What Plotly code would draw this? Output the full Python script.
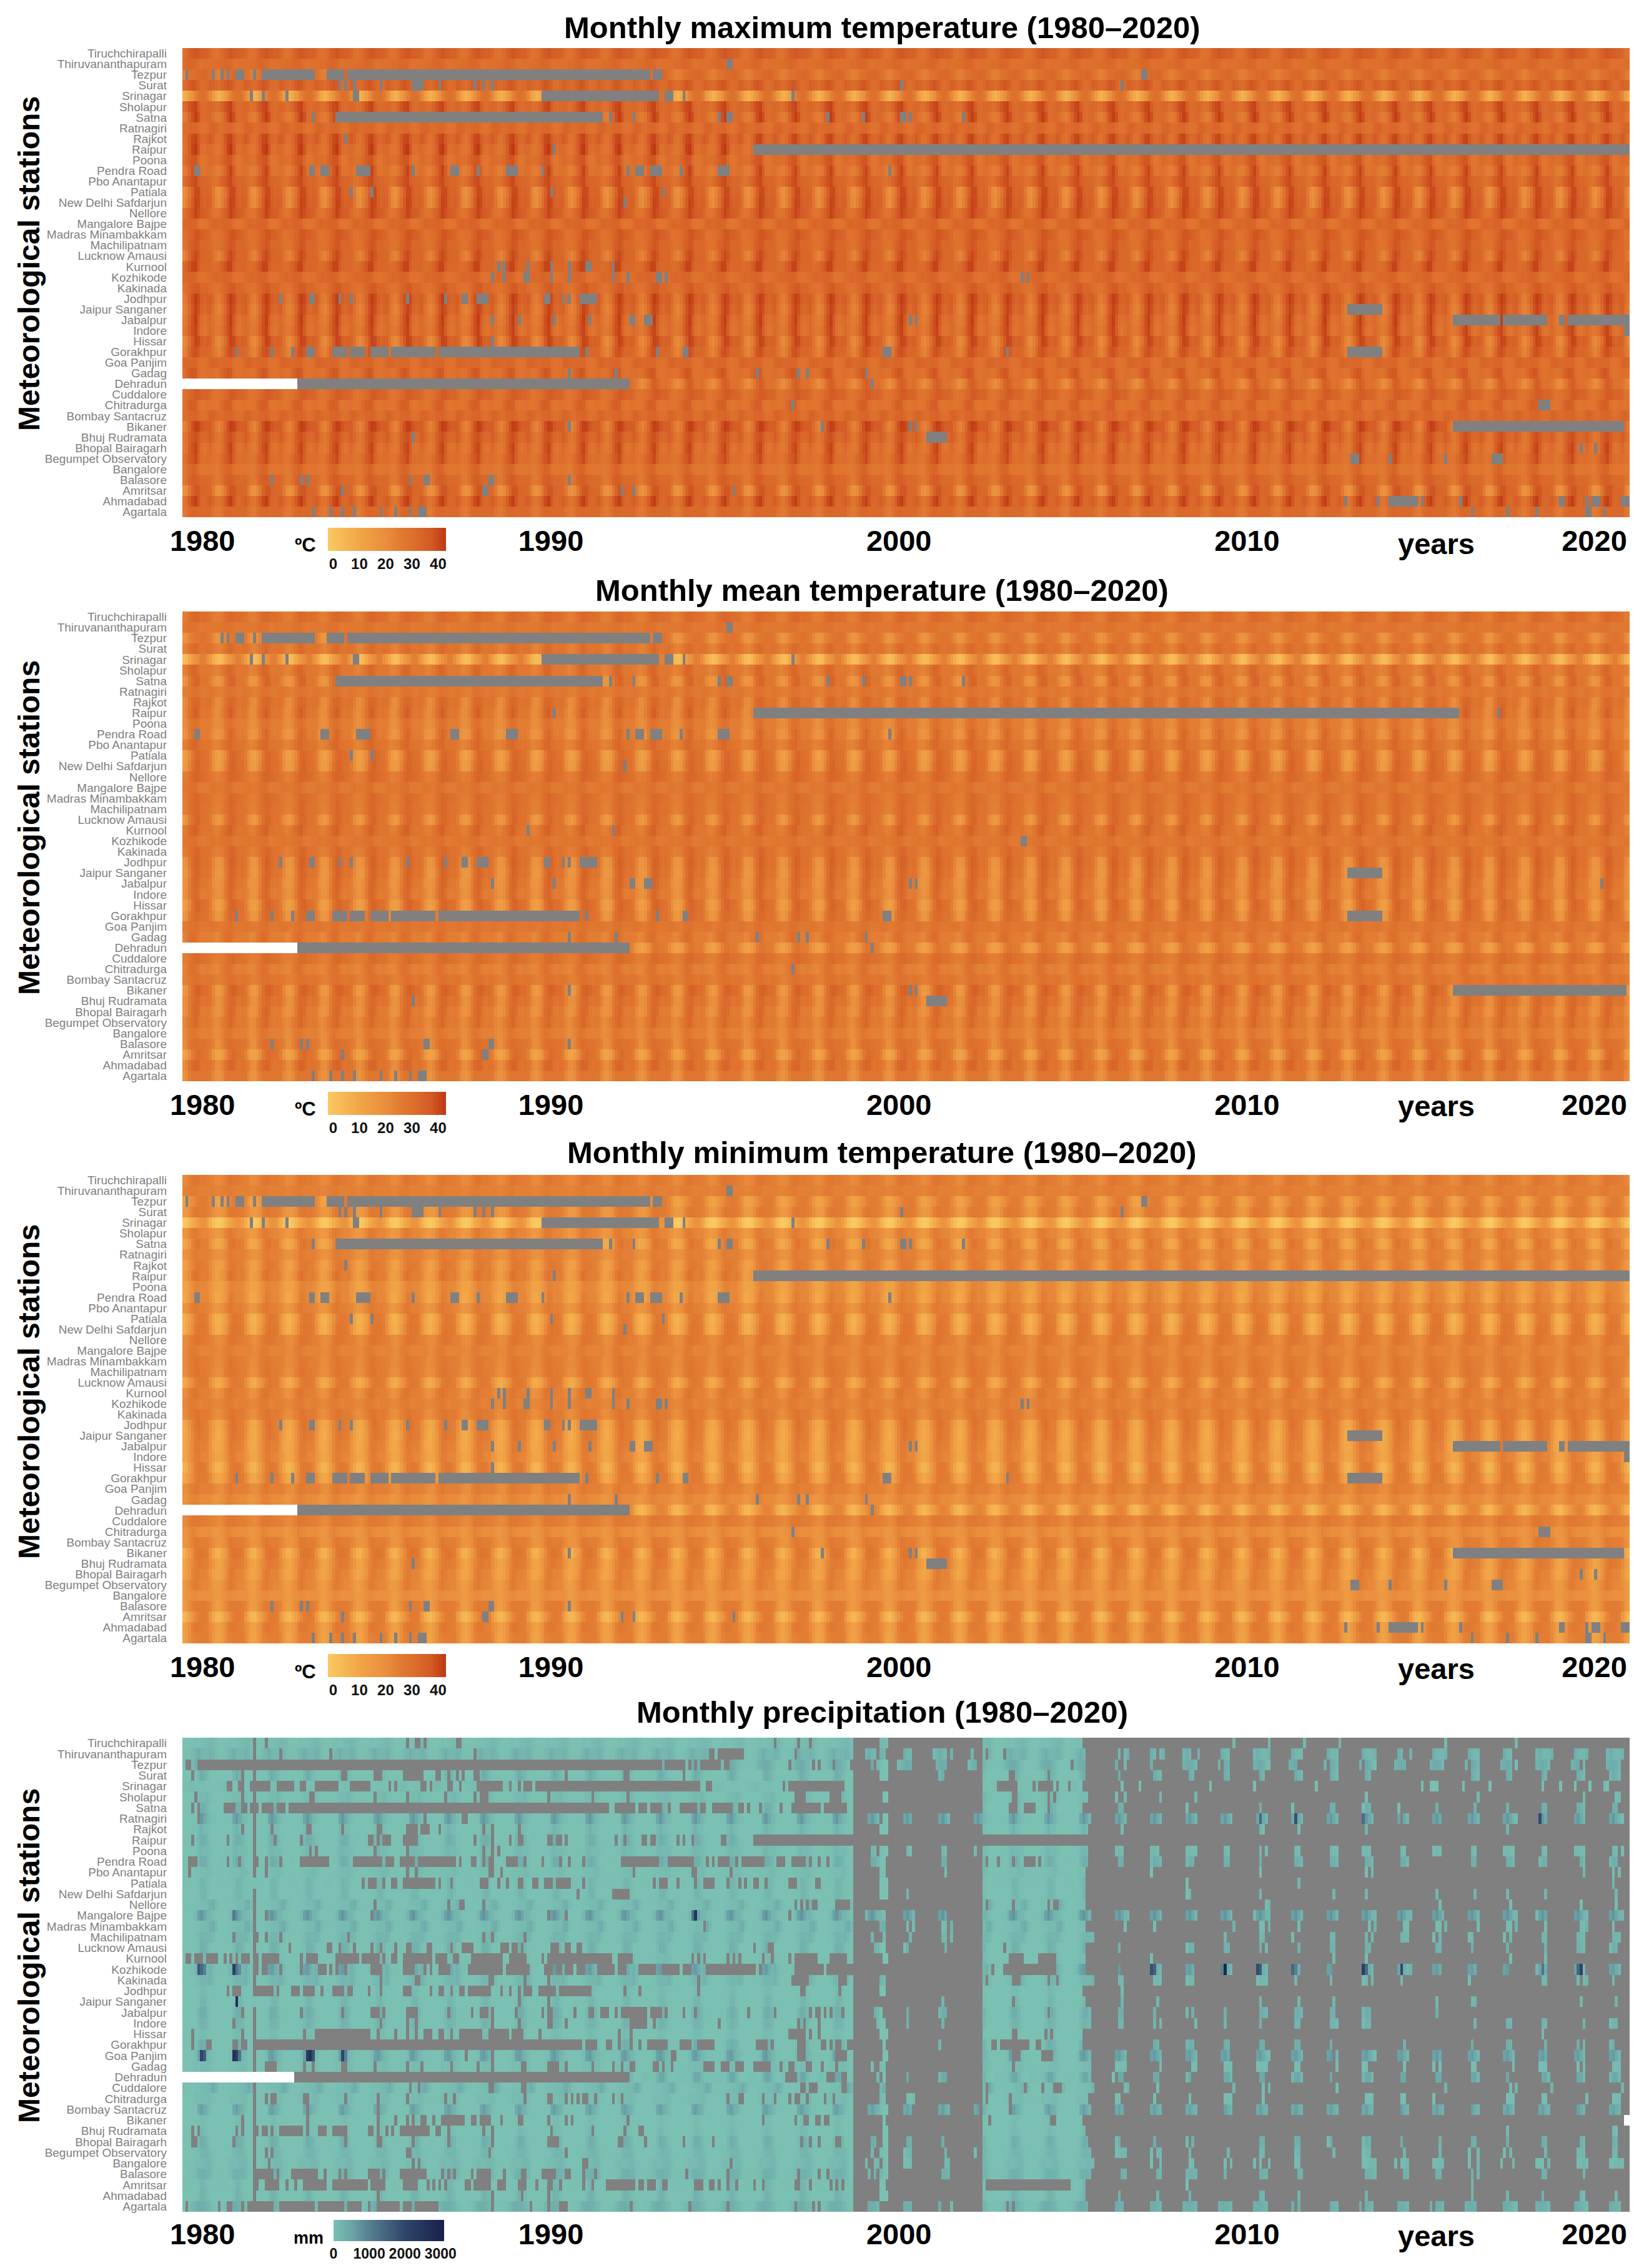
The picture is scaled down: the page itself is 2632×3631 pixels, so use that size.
import numpy as np
import plotly.graph_objects as go

# Station order is top-down as printed on the y axis.
STATIONS = ["Tiruchchirapalli","Thiruvananthapuram","Tezpur","Surat","Srinagar","Sholapur","Satna","Ratnagiri","Rajkot","Raipur","Poona","Pendra Road","Pbo Anantapur","Patiala","New Delhi Safdarjun","Nellore","Mangalore Bajpe","Madras Minambakkam","Machilipatnam","Lucknow Amausi","Kurnool","Kozhikode","Kakinada","Jodhpur","Jaipur Sanganer","Jabalpur","Indore","Hissar","Gorakhpur","Goa Panjim","Gadag","Dehradun","Cuddalore","Chitradurga","Bombay Santacruz","Bikaner","Bhuj Rudramata","Bhopal Bairagarh","Begumpet Observatory","Bangalore","Balasore","Amritsar","Ahmadabad","Agartala"]
YEAR_TICKS = [1980.57, 1990.44, 2000.3, 2010.16, 2020.0]
YEAR_LABELS = ["1980", "1990", "2000", "2010", "2020"]
TITLES = ["Monthly maximum temperature (1980–2020)", "Monthly mean temperature (1980–2020)", "Monthly minimum temperature (1980–2020)", "Monthly precipitation (1980–2020)"]

# Estimated 12-month (Jan-Dec) station profiles read from the stripes: the picture's
# 492 x 44 cells are approximated by one annual profile per station and panel.
TMAX = [[30,32,35,37,38,37,36,35,35,33,30,29],[31,32,33,33,32,30,29,30,30,30,30,31],[24,26,29,30,31,32,32,33,32,30,28,25],[31,33,36,38,37,34,31,31,32,35,34,32],[6,9,14,19,24,28,30,30,27,22,15,9],[31,34,38,40,41,36,32,31,32,33,32,30],[25,28,34,39,42,39,32,31,32,32,29,26],[31,31,32,33,33,31,29,29,30,33,34,33],[29,32,37,40,41,37,33,32,34,37,34,30],[28,31,36,41,43,38,31,30,32,32,30,28],[30,33,36,38,38,32,28,28,30,32,31,30],[25,28,33,38,41,36,29,28,30,30,28,25],[31,34,37,39,40,36,34,33,33,32,30,29],[19,23,28,35,40,40,35,33,34,33,27,21],[20,24,30,37,41,40,36,34,35,34,28,22],[29,32,35,38,41,39,37,36,35,32,29,28],[32,33,34,34,33,29,28,28,29,31,33,33],[30,31,33,35,38,38,36,35,34,32,29,29],[29,31,34,36,38,37,33,33,33,32,30,29],[23,27,33,38,40,38,34,33,33,33,29,25],[32,35,38,41,41,36,33,33,33,33,31,31],[32,33,34,34,33,30,29,29,30,31,32,33],[29,31,33,35,37,37,33,33,33,31,30,29],[25,29,34,39,42,40,36,34,35,36,32,27],[23,26,32,38,41,39,34,32,34,35,30,25],[25,28,34,39,42,37,31,29,31,32,29,26],[27,30,35,39,41,36,30,28,30,32,30,27],[21,24,30,37,41,40,36,34,35,34,29,23],[23,27,33,38,39,37,33,33,33,32,29,25],[32,32,33,33,33,30,29,29,30,33,34,33],[30,33,36,38,37,31,29,29,30,31,30,29],[20,23,27,33,36,34,30,29,30,28,25,22],[29,30,32,34,37,37,35,34,34,32,29,28],[29,32,35,36,35,30,28,28,29,29,28,28],[31,31,33,33,34,32,30,30,31,34,34,32],[23,27,33,39,42,41,38,36,36,36,31,26],[27,30,35,38,39,37,33,32,33,36,33,29],[26,29,35,39,41,36,30,28,30,32,29,27],[29,32,36,38,40,35,31,30,31,31,29,28],[27,30,32,34,33,29,28,28,28,28,27,26],[27,30,34,36,36,34,32,32,32,32,30,27],[18,21,27,34,38,38,34,33,33,32,26,20],[28,31,36,40,42,38,33,32,34,36,33,29],[26,29,32,33,33,32,32,32,32,32,29,27]]
TMEAN = [[25,27,30,32,33,32,31,31,30,29,26,25],[27,28,29,29,29,27,26,27,27,27,27,27],[17,19,23,25,27,28,29,29,28,26,22,18],[23,25,28,31,32,30,28,28,29,29,27,24],[2,4,9,14,18,21,24,24,20,14,8,4],[24,26,30,33,33,30,27,27,27,27,25,23],[17,20,26,31,34,33,28,28,28,25,21,17],[25,25,27,29,29,28,27,26,27,28,27,26],[20,23,28,32,33,32,29,28,29,29,25,21],[21,24,29,33,36,32,28,27,28,27,23,20],[20,22,26,29,30,28,25,25,25,25,22,20],[17,20,25,30,33,30,26,25,26,24,20,17],[24,26,30,32,33,30,29,28,28,27,24,23],[12,16,21,27,32,33,31,30,29,25,19,14],[14,17,23,29,33,34,31,30,30,26,20,15],[25,26,29,32,34,33,32,31,30,28,26,24],[27,27,29,30,30,27,26,26,26,27,28,27],[25,26,29,31,33,32,31,30,29,28,26,25],[24,26,29,31,33,32,30,29,29,28,26,24],[15,19,25,30,33,33,30,29,29,26,21,17],[25,28,31,34,35,31,29,28,28,28,26,24],[27,28,29,30,30,27,26,26,27,27,28,27],[25,26,29,31,33,33,30,29,29,28,26,24],[17,20,26,31,35,34,31,29,30,28,23,18],[16,18,24,30,34,33,30,28,29,27,22,17],[17,20,25,31,34,32,28,27,27,25,20,17],[18,21,26,31,33,30,26,25,26,25,22,19],[13,16,22,29,33,34,31,30,29,25,19,14],[16,19,25,30,32,32,30,29,29,26,22,17],[26,26,28,29,30,28,27,27,27,28,28,27],[23,26,29,31,30,27,25,25,25,25,24,22],[12,15,19,24,28,28,26,26,25,21,16,13],[25,26,28,31,32,32,30,30,29,28,26,25],[23,25,28,30,29,26,24,24,25,24,23,22],[24,25,27,29,30,29,28,27,28,28,27,25],[15,18,24,30,34,35,33,31,31,28,22,16],[19,21,26,30,32,32,29,28,29,28,24,20],[18,21,26,31,33,31,26,25,26,25,21,18],[22,25,28,31,33,29,27,26,27,26,23,21],[21,23,26,28,27,25,24,24,24,24,22,20],[20,23,27,30,31,30,29,29,28,27,24,20],[11,14,20,26,30,32,30,29,28,24,17,12],[20,23,28,32,34,33,29,28,29,28,25,21],[18,21,25,28,28,28,28,28,28,27,22,19]]
TMIN = [[21,22,24,27,28,27,26,26,25,24,23,21],[23,24,25,26,26,24,24,24,24,24,24,23],[11,13,17,20,23,25,26,26,25,22,17,12],[15,16,20,24,27,27,26,26,25,23,20,16],[-2,0,4,8,11,15,18,18,13,7,2,-1],[16,18,22,25,26,24,23,22,22,20,18,15],[9,12,17,23,27,28,25,25,24,19,13,9],[18,19,21,24,26,25,24,24,24,23,21,19],[12,14,19,23,26,27,26,25,24,21,17,13],[14,17,21,26,29,27,25,24,25,22,17,13],[11,12,16,20,23,23,22,22,21,18,14,11],[9,12,16,21,25,24,22,22,22,18,13,9],[17,19,22,25,27,25,24,24,23,22,19,16],[6,9,13,19,24,27,27,26,24,18,11,7],[7,10,15,21,26,28,27,27,25,19,12,8],[20,21,23,26,28,28,27,26,25,24,23,21],[21,22,24,26,26,24,23,23,23,23,23,22],[21,22,24,26,28,27,26,25,25,24,23,21],[20,21,24,26,28,28,26,26,25,24,22,20],[8,11,16,21,25,27,27,26,25,20,14,9],[19,21,24,27,28,26,25,24,24,23,21,18],[22,23,25,26,26,24,23,24,24,24,23,22],[20,22,24,26,28,28,26,26,26,24,22,20],[9,12,18,23,27,29,27,25,24,20,14,10],[8,11,16,22,26,28,26,25,24,19,13,9],[9,12,17,22,26,26,24,24,23,18,12,9],[10,12,17,22,25,25,23,22,22,18,14,10],[5,8,14,20,25,27,27,26,23,17,10,6],[9,12,16,21,25,27,26,26,25,21,15,10],[20,20,23,25,27,25,24,24,24,24,23,21],[17,19,21,23,23,22,21,21,21,20,18,16],[4,7,11,15,19,22,23,23,21,14,8,5],[21,22,24,27,27,27,26,25,25,24,23,22],[17,19,21,23,22,21,20,20,20,20,18,16],[17,18,21,24,27,26,25,25,25,23,21,18],[6,10,15,21,26,28,28,27,25,19,12,7],[10,13,18,22,25,27,26,25,24,21,16,12],[10,13,17,23,26,25,23,23,22,18,13,10],[15,18,21,24,26,24,23,22,22,20,16,14],[15,17,19,21,21,20,19,19,19,19,17,15],[14,17,21,24,26,26,26,26,25,23,18,14],[4,7,12,17,22,25,26,26,24,16,9,5],[12,15,19,24,27,27,26,25,24,21,17,13],[11,14,19,23,24,25,25,25,25,22,16,12]]
PRECIP = [[15,10,10,40,70,40,50,100,130,170,150,70],[20,25,40,120,220,330,210,170,180,280,210,70],[15,30,60,160,270,340,390,320,200,90,20,8],[1,1,1,2,10,200,380,250,150,30,8,2],[60,70,110,90,60,40,60,70,30,30,20,40],[4,3,8,20,35,110,120,130,180,90,25,5],[20,20,12,5,10,110,320,300,170,35,10,8],[1,1,1,3,30,480,650,420,220,100,30,5],[1,1,1,1,5,120,250,130,80,15,5,1],[10,15,20,15,20,200,320,300,190,50,10,5],[2,1,3,15,40,140,190,130,130,90,30,5],[20,25,20,15,15,190,340,320,200,50,10,10],[3,4,6,20,50,60,70,90,150,110,35,6],[40,40,30,15,20,70,220,200,110,15,5,15],[20,20,15,10,20,60,200,220,110,15,5,10],[25,10,6,15,40,50,90,110,130,250,320,130],[1,1,3,25,160,550,700,480,230,200,70,15],[20,8,5,12,40,60,100,130,130,280,350,150],[8,10,10,20,50,130,220,210,180,210,120,15],[20,20,10,8,20,110,300,290,180,30,5,8],[3,5,6,15,30,80,100,120,150,110,25,5],[3,3,10,70,220,520,620,380,200,280,130,30],[10,12,10,20,50,130,190,190,180,260,130,15],[4,4,3,4,12,35,120,120,50,6,2,1],[8,8,6,6,15,60,190,220,70,15,3,3],[22,20,15,7,10,180,340,320,190,30,10,8],[5,3,2,3,10,130,260,230,170,40,15,5],[15,20,15,15,20,50,120,110,60,10,3,8],[15,15,10,15,40,220,340,300,220,55,5,5],[1,1,1,10,100,520,620,400,220,130,40,10],[2,2,10,35,70,60,85,85,120,110,30,5],[50,55,50,25,40,210,430,430,200,30,8,20],[30,15,15,20,50,50,70,120,130,230,370,220],[2,3,10,35,85,70,80,90,130,120,35,8],[1,1,1,1,15,400,560,380,250,80,15,4],[5,8,6,6,15,30,90,90,30,5,1,2],[2,2,2,1,4,50,150,80,50,8,3,1],[15,10,7,4,10,140,340,310,190,30,15,7],[6,8,15,25,40,110,190,210,180,110,25,5],[3,6,10,45,115,90,110,140,200,160,60,15],[15,30,40,50,110,240,300,310,250,190,50,8],[30,40,35,20,20,60,200,170,60,15,5,15],[1,1,1,2,8,100,260,210,100,12,5,1],[10,25,70,180,300,360,330,300,220,150,30,10]]
# Unusually dark cells: (station, month index from Jan 1980, mm)
PRECIP_EVENTS = [("Kozhikode",5,1700),("Kozhikode",6,1400),("Kozhikode",7,1000),("Kozhikode",17,2100),("Kozhikode",18,1200),("Kozhikode",19,800),("Goa Panjim",6,2000),("Goa Panjim",7,1600),("Goa Panjim",17,2600),("Goa Panjim",18,2200),("Goa Panjim",19,1200),("Goa Panjim",42,2300),("Goa Panjim",43,2700),("Goa Panjim",44,1800),("Goa Panjim",54,2000),("Goa Panjim",55,1000),("Jaipur Sanganer",18,2700),("Mangalore Bajpe",17,1100),("Mangalore Bajpe",173,1200),("Mangalore Bajpe",174,2500),("Kozhikode",329,1800),("Kozhikode",330,1500),("Kozhikode",353,1000),("Kozhikode",354,2900),("Kozhikode",365,1900),("Kozhikode",366,1600),("Kozhikode",377,1400),("Kozhikode",378,1000),("Kozhikode",401,2200),("Kozhikode",402,1400),("Kozhikode",414,2000),("Kozhikode",462,1200),("Kozhikode",474,1400),("Kozhikode",475,2100),("Ratnagiri",366,1400),("Ratnagiri",378,1800),("Ratnagiri",401,1300),("Ratnagiri",461,1900)]

# Missing-data runs: station -> (first month index, number of months)
TMAX_GAPS = {"Thiruvananthapuram":[(185,2)],
"Tezpur":[(1,1),(10,1),(13,1),(15,1),(18,3),(24,1),(27,8),(35,10),(49,6),(56,103),(160,3),(326,2)],
"Surat":[(53,1),(55,1),(58,1),(67,1),(78,4),(87,1),(99,1),(102,1),(105,1),(244,1),(319,1)],
"Srinagar":[(23,1),(27,1),(35,1),(58,2),(122,40),(164,3),(170,1),(207,1)],
"Satna":[(44,1),(52,91),(145,1),(153,1),(182,1),(185,2),(219,1),(231,1),(244,2),(247,1),(265,1)],
"Rajkot":[(55,1)],"Raipur":[(126,1),(194,298)],
"Pendra Road":[(4,2),(43,2),(47,3),(59,5),(78,1),(91,3),(100,1),(110,4),(122,1),(151,1),(154,3),(159,4),(169,1),(182,4),(240,1)],
"Patiala":[(57,1),(64,1),(125,1),(163,1)],"New Delhi Safdarjun":[(150,1)],
"Kurnool":[(107,1),(109,1),(117,1),(125,1),(131,1),(137,2),(146,1)],
"Kozhikode":[(105,1),(109,1),(116,2),(125,1),(131,1),(146,1),(151,1),(161,2),(164,1),(285,1),(287,1)],
"Jodhpur":[(33,1),(43,2),(53,1),(57,1),(76,1),(89,1),(95,2),(100,4),(123,2),(129,1),(131,1),(135,6)],
"Jaipur Sanganer":[(396,12)],
"Jabalpur":[(105,1),(114,1),(126,1),(138,1),(152,2),(157,3),(247,1),(249,1),(432,16),(449,15),(468,2),(471,21)],
"Indore":[(490,2)],"Hissar":[(105,1)],
"Gorakhpur":[(18,1),(30,1),(37,1),(42,3),(51,5),(57,5),(64,6),(71,15),(87,48),(137,1),(161,1),(170,2),(238,3),(280,1),(396,12)],
"Gadag":[(131,1),(147,1),(195,1),(209,1),(212,1),(232,1)],
"Dehradun":[(39,113),(234,1)],"Chitradurga":[(207,1),(461,4)],
"Bikaner":[(131,1),(217,1),(247,1),(249,1),(432,58)],"Bhuj Rudramata":[(78,1),(253,7)],
"Bhopal Bairagarh":[(475,1),(480,1)],"Begumpet Observatory":[(397,3),(410,1),(429,1),(445,4)],
"Balasore":[(30,1),(40,1),(42,1),(77,1),(82,2),(104,2),(131,1)],
"Amritsar":[(54,1),(102,2),(149,1),(153,1),(187,1)],
"Ahmadabad":[(395,1),(406,1),(410,10),(421,1),(434,1),(468,2),(477,1),(479,3),(489,3)],
"Agartala":[(44,1),(50,1),(54,1),(58,1),(67,1),(72,1),(77,1),(80,3),(438,1),(450,1),(460,1),(477,2),(483,1)]}
TMEAN_GAPS = {"Thiruvananthapuram":[(185,2)],
"Tezpur":[(13,1),(15,1),(18,3),(24,1),(27,8),(35,10),(49,6),(56,103),(160,3)],
"Srinagar":[(23,1),(27,1),(35,1),(58,2),(122,40),(164,3),(170,1),(207,1)],
"Satna":[(52,91),(145,1),(153,1),(182,1),(185,2),(219,1),(231,1),(244,2),(247,1),(265,1)],
"Raipur":[(126,1),(194,240),(447,1)],
"Pendra Road":[(4,2),(47,3),(59,5),(91,3),(110,4),(151,1),(154,3),(159,4),(169,1),(182,4),(240,1)],
"Patiala":[(57,1),(64,1)],"New Delhi Safdarjun":[(150,1)],"Kurnool":[(117,1),(146,1)],"Kozhikode":[(285,2)],
"Jodhpur":[(33,1),(43,2),(53,1),(57,1),(76,1),(89,1),(95,2),(100,4),(123,2),(129,1),(131,1),(135,6)],
"Jaipur Sanganer":[(396,12)],"Jabalpur":[(105,1),(126,1),(152,2),(157,3),(247,1),(249,1),(482,1)],
"Gorakhpur":[(18,1),(30,1),(37,1),(42,3),(51,5),(57,5),(64,6),(71,15),(87,48),(137,1),(161,1),(170,2),(238,3),(396,12)],
"Gadag":[(131,1),(147,1),(195,1),(209,1),(212,1),(232,1)],"Dehradun":[(39,113),(234,1)],"Chitradurga":[(207,1)],
"Bikaner":[(131,1),(247,1),(249,1),(432,59)],"Bhuj Rudramata":[(78,1),(253,7)],
"Balasore":[(30,1),(40,1),(42,1),(82,2),(104,2),(131,1)],"Amritsar":[(54,1),(102,2)],
"Agartala":[(44,1),(50,1),(54,1),(58,1),(67,1),(72,1),(77,1),(80,3)]}
TMIN_GAPS = TMAX_GAPS
# Months with no data and no grey at the start of a record (page white)
WHITE_RUNS = {"Dehradun":(0,39)}
PRECIP_WHITE_RUNS = {"Dehradun":(0,38),"Bikaner":(490,2)}

# Precipitation: grey runs before 1999 and 2002.7-2005.5, top-down
PRECIP_GAPS = [
[(28,1),(76,1),(79,2),(82,1),(93,2),(201,1),(209,1),(213,1)],
[(33,1),(50,1),(99,1),(179,2),(182,9),(208,1),(273,1),(279,1)],
[(1,2),(5,158),(164,7),(172,1),(174,1),(176,7),(184,2),(206,1),(214,1),(216,1),(221,1),(227,1),(302,1)],
[(3,1),(20,1),(54,2),(65,1),(66,2),(75,7),(86,1),(87,1),(90,1),(93,1),(95,1),(99,2),(130,1),(150,2),(170,1),(281,2),(294,1)],
[(15,2),(19,2),(23,7),(32,6),(40,2),(45,7),(52,1),(57,7),(70,1),(72,1),(81,2),(84,1),(90,2),(94,1),(100,5),(105,4),(111,1),(114,1),(116,3),(120,56),(178,2),(204,1),(206,19),(277,7),(289,1),(291,5),(297,1),(301,1)],
[(4,1),(20,1),(43,2),(65,1),(76,1),(89,1),(99,1),(101,3),(124,1),(139,1),(151,1),(208,1),(209,3),(220,4),(282,2),(294,1),(296,1)],
[(3,1),(5,1),(14,4),(20,2),(23,3),(27,4),(32,3),(36,109),(147,7),(155,3),(159,4),(165,1),(169,6),(176,2),(180,7),(189,2),(192,1),(196,1),(203,1),(207,10),(218,7),(225,1),(281,3),(286,4),(294,1)],
[(5,1),(82,1),(95,2)],
[(20,1),(30,1),(42,2),(54,1),(66,2),(76,4),(81,3),(87,1),(102,1),(105,1),(114,1)],
[(3,1),(15,1),(31,1),(40,1),(63,2),(66,1),(68,3),(75,5),(99,1),(105,1),(111,1),(114,2),(124,2),(127,2),(130,1),(147,1),(150,1),(156,2),(159,2),(168,1),(170,1),(173,1),(183,2),(194,298)],
[(43,1),(45,1),(65,1),(76,1),(102,1),(105,1),(107,1)],
[(2,3),(15,1),(19,1),(25,1),(28,1),(33,1),(40,10),(58,10),(69,3),(74,5),(80,13),(94,1),(98,2),(102,1),(104,2),(110,4),(116,1),(122,1),(128,1),(131,1),(136,1),(149,13),(165,9),(178,1),(180,1),(182,4),(188,1),(190,8),(202,3),(207,5),(213,1),(216,1),(219,1),(273,1),(277,1),(282,1),(286,4),(291,1)],
[(2,1),(28,1),(76,1),(79,1),(104,2),(108,1),(153,1),(173,2),(186,1)],
[(61,1),(63,3),(68,1),(71,2),(75,11),(87,1),(91,1),(101,3),(107,1),(110,1),(114,2),(119,2),(123,3),(127,5),(136,1),(160,1),(162,3),(168,1),(174,1),(177,4),(185,1),(189,1),(191,1),(194,2),(198,1),(206,3),(215,2)],
[(134,1),(146,6)],
[(65,1),(90,1),(94,2),(102,1),(208,1),(210,1),(212,1),(214,2),(222,5),(273,1),(282,1),(294,1),(296,2)],
[(28,1),(64,1),(124,1),(130,1),(206,1)],
[(177,1)],
[(17,1),(25,1),(28,1),(33,1),(56,1),(102,1),(105,1),(116,1)],
[(36,1),(49,2),(53,1),(58,1),(64,1),(67,1),(72,1),(76,2),(83,2),(91,1),(95,4),(108,3),(112,2),(115,1),(125,3),(130,2),(134,2),(194,1),(199,2),(279,1)],
[(1,2),(4,3),(8,4),(14,1),(16,1),(18,1),(20,3),(25,1),(27,6),(40,1),(42,4),(52,8),(61,6),(68,1),(71,2),(75,10),(86,4),(92,2),(98,3),(101,8),(111,6),(122,1),(124,22),(148,5),(173,1),(175,1),(177,1),(185,1),(187,1),(189,1),(197,1),(200,1),(206,1),(208,8),(220,6),(281,5),(291,6)],
[(25,1),(27,2),(33,1),(40,1),(46,3),(50,1),(52,1),(55,1),(64,4),(75,4),(82,1),(84,1),(87,4),(97,5),(102,7),(110,8),(123,3),(127,2),(130,3),(134,3),(141,6),(148,3),(155,6),(163,6),(170,3),(178,17),(196,1),(208,10),(219,9),(275,1),(279,18)],
[(67,1),(79,2),(104,2),(116,1),(124,1),(175,1),(207,6),(223,3),(273,1),(282,3),(294,1),(297,1)],
[(15,1),(17,3),(24,7),(32,1),(37,3),(41,4),(47,1),(51,4),(56,2),(63,1),(67,1),(75,3),(84,1),(87,2),(91,1),(94,2),(97,8),(108,1),(111,1),(114,1),(116,3),(121,6),(128,11),(150,1),(155,1),(175,1),(210,2),(223,1)],
[(114,1),(124,1),(282,1)],
[(20,1),(40,1),(54,1),(64,3),(68,1),(76,4),(90,1),(98,1),(101,3),(105,1),(113,1),(122,1),(124,2),(133,1),(138,1),(139,1),(142,3),(147,1),(149,9),(159,4),(164,1),(170,1),(174,1),(192,1),(201,1),(213,1),(215,2),(218,1),(220,1),(224,1),(294,1)],
[(17,1),(67,1),(76,1),(79,1),(105,1),(114,1),(124,2),(130,1),(152,6),(160,1),(182,1),(209,1),(211,1),(216,1)],
[(3,1),(20,1),(41,1),(45,19),(66,1),(72,1),(76,1),(79,1),(82,3),(87,2),(91,1),(94,8),(104,7),(112,4),(121,1),(148,1),(152,1),(206,6),(213,1),(216,1),(282,2),(293,1),(295,1)],
[(3,1),(8,2),(17,2),(20,2),(24,112),(137,4),(144,2),(148,1),(152,1),(155,1),(158,7),(169,4),(175,6),(195,4),(200,1),(209,3),(217,2),(220,1),(222,2),(226,2),(275,2),(278,10),(290,2)],
[(96,1),(105,1),(166,2),(209,3),(222,4),(282,3),(292,4)],
[(28,4),(41,1),(44,1),(54,2),(65,1),(76,1),(81,1),(91,1),(100,1),(105,1),(115,2),(124,4),(130,1),(139,1),(146,1),(149,1),(152,2),(160,2),(163,1),(166,1),(177,2),(179,2),(183,3),(188,3),(194,5),(199,1),(203,1),(206,2),(212,2),(217,1),(222,1),(282,1)],
[(38,114),(205,4),(219,3),(224,2)],
[(77,1),(80,1),(104,2),(115,2),(210,2),(213,3),(224,2),(273,1),(286,1),(292,1),(296,3)],
[(28,1),(30,2),(41,2),(55,1),(66,1),(76,1),(89,1),(92,1),(116,1),(124,2),(130,1),(132,1),(134,1),(136,2),(140,1),(146,1),(149,1),(185,1),(189,2),(197,1),(201,1),(206,1),(208,2),(212,1),(218,1),(221,1),(273,1),(281,1)],
[(42,1),(66,1),(281,1)],
[(20,1),(42,1),(66,1),(72,1),(76,1),(78,1),(81,2),(85,1),(88,8),(98,2),(101,4),(108,1),(114,2),(124,1),(130,1),(132,1),(151,1),(197,1),(208,1),(211,2),(215,2),(218,2),(274,1),(295,2)],
[(3,1),(5,1),(18,1),(20,1),(25,1),(27,2),(30,1),(33,8),(42,1),(46,3),(51,5),(63,2),(66,1),(69,1),(71,1),(74,10),(86,2),(90,1),(102,1),(105,1),(125,1),(139,1),(150,1),(155,2)],
[(3,2),(17,1),(55,1),(66,1),(67,1),(78,1),(90,1),(105,1),(124,4),(148,2),(157,1),(170,1),(180,1),(210,1),(213,1),(216,1),(222,2)],
[(28,1),(30,1),(76,2),(104,1),(130,1)],
[(29,1),(78,1),(80,1),(136,2),(186,1)],
[(25,6),(32,1),(37,1),(38,8),(48,1),(53,1),(55,1),(63,4),(68,1),(74,1),(75,8),(88,1),(90,1),(92,1),(98,1),(100,1),(101,4),(109,1),(115,2),(122,5),(130,2),(136,1),(140,1),(171,1),(185,1),(209,1),(216,1),(219,1)],
[(25,1),(28,5),(35,1),(38,1),(41,8),(51,12),(64,5),(75,5),(83,1),(85,1),(87,1),(89,1),(96,2),(99,6),(107,3),(114,3),(120,1),(124,2),(128,1),(136,1),(139,1),(144,10),(155,2),(158,3),(163,2),(174,3),(179,2),(182,1),(185,1),(188,1),(194,1),(197,1),(208,2),(213,1),(220,1),(222,1),(224,1),(273,29)],
[(66,1),(105,1),(115,1),(124,1)],
[(1,1),(12,1),(15,2),(20,1),(22,2),(24,7),(33,12),(46,9),(56,5),(63,1),(66,8),(75,3),(79,8),(105,1),(118,1),(124,1),(128,3),(152,1),(172,1),(185,1),(208,1),(214,1),(216,1),(280,1),(282,1)]]
# Column of missing precipitation in Jan 1982, every station except these
PRECIP_COLUMN_MONTH = 24
PRECIP_COLUMN_EXCEPT = ["Patiala", "Jaipur Sanganer"]

# Start of the grey blocks; last teal month of the 2002-2005 block per station
GREY_BLOCK_1 = (228, 272)
PRECIP_EDGE = [306,307,307,307,306,308,306,309,308,306,308,308,307,307,307,307,309,307,310,307,307,307,310,306,307,309,309,306,306,309,309,309,310,308,309,306,307,308,309,310,309,307,307,308]
# Teal cells inside the 1999-2002.7 grey block: (first month, length), top-down
TEAL_BLOCK_1 = [
[(237,3)],[(232,4),(237,1),(238,1),(245,1),(246,2),(255,5),(261,1),(268,1)],[(234,1),(236,4),(243,5),(256,4),(267,3)],[(237,3),(257,2)],[],[(238,2)],[],
[(233,4),(238,2),(245,3),(257,4),(269,3)],[(237,3)],[],[(234,2),(237,3),(246,2),(258,2),(269,1)],[(234,5),(258,2)],[(237,2),(259,1)],[(237,3)],[(237,3),(246,1)],[],
[(232,5),(237,2),(245,4),(257,3)],[(237,2),(246,1),(248,1),(258,2),(261,1)],[(234,1),(238,1),(247,1),(258,2),(261,1)],[(235,4),(245,2),(259,1)],[(238,2)],[],[(237,2)],[(237,2)],[(258,1)],
[(235,3),(246,1),(257,3)],[(236,3),(246,1),(258,1)],[(237,3)],[(238,1),(257,1)],[(238,2)],[(234,1),(237,2)],[(236,1),(238,1),(246,1),(257,3)],[(237,2)],[(237,2),(246,3)],
[(233,7),(245,3),(257,4),(269,2)],[(238,1)],[(238,2)],[(234,2),(238,2),(246,2),(258,1)],[(234,1),(237,3),(245,3),(259,1),(269,1)],[(232,1),(235,2),(238,2),(245,3),(259,2)],
[(233,1),(235,1),(237,3),(258,3)],[(237,2)],[(237,3)],[(233,4),(245,3),(257,1),(261,1)]]
# Monsoon teal after 2005: one group per year 2006-2020, May..Oct; "-" means all grey
TEAL_YEARS = [
"- - - .....# .....# .....# .....# - - .....# - .....# - - -",
"..#.## .##.## ###..# .###.. ###### .####. .####. .##### .##..# .##### .####. .###.. ###### .##### ######",
".#..#. .#.... #####. #.##.. ###### ###... #.###. #.#### ####.. #####. #.###. ####.# #####. ###.#. #####.",
"..#... ..###. ..##.. ..##.. ..##.. ..###. ..###. ..##.. - - ..###. ..##.. ..##.. ..###. .####.",
"...#.. - - - #..... - - - - ###... - - ..#... .#.... #.....",
".#..#. ....#. ....#. - - - - ..#... - - ....#. - - ....#. ...##.",
"..##.. - .#.... - ..#... .#.... ..##.. .###.. .#.... ..#... ...#.. ..#... ..##.. ..###. ..##..",
".####. .####. .####. .####. .####. .####. .####. .####. .#.##. .###.. .####. .##### .###.. .####. .#####",
"...#.. - - - ..##.. ...#.. - ..#... - - - ..#... - - -",
"- - - - - - - - - - - - - - -",
".###.. .###.. .####. ..##.. ..#.#. ..##.. ..###. .###.. ..##.. .###.. ..##.. .####. ..##.. .####. ..##.#",
"..##.. .####. .###.. ..##.. ..#... ..###. ..###. ..###. ..###. - ..##.. ..###. .###.. ...##. .###..",
"- .#.... - - ..#... - - ..#.#. - - - - - ....#. ..#.#.",
"- - .#.... - - ...#.. - - - - - - - - ..#...",
"- - .##... - ..#... - ...#.. ..#... - ..#... ...#.. ..#... ...#.. - ...#..",
"- - - - ....## - - - - ...#.. - ...#.. - ...#.. ...#..",
".##### .####. .####. .####. ###### .####. .####. .##### .##### .####. .####. .##### ####.. .##### .#####",
"....#. ..#... - .....# ..##.# ...#.. - ...#.# ...##. ..##.# ....#. ..##.# ...#.. ...### ..#...",
"- - - ..#... ..##.. .#.... ..##.. ..#.#. ..###. .#.#.. .##... .#.#.. ..##.. ..###. ..###.",
"..#... - .###.. ..##.. ..#.#. ...#.. ..##.. ..##.. - ..##.. ..#... ..#... ...#.. ..###. .###..",
"- .#.... - - - - ...#.. ..#... - - - ...#.. ...#.. - -",
"..#... .####. .###.. .####. .####. .###.. .##... .####. .##### .###.. .###.. .##... ####.. .####. .####.",
"..##.. ..###. .###.. - .####. ..#... ..#... .##.#. ..#... - .#.... - ..##.. ..#.## ..#...",
"...#.. - - - - - - - - - - - - - -",
"...#.. ...#.. - - ..#... ...#.. ...#.. - - ..#... ..##.. - - ...#.. ...#..",
"..##.. ..#... .#.#.. ..#... ..###. ..###. ..##.. .###.. - ..#... - - - - -",
"..##.. ..#.#. ....#. ..#... ..#... ..##.. ..###. .###.. - - ...#.. ..##.. ..##.. ....#. .###..",
"- - - - - - - - - - - - ..#... - -",
"- ..##.. .###.. ..##.. ..##.. ..##.. ..#... - ...#.. - ..#... ..##.. ...#.. ..#.#. .##...",
".####. .####. .####. .###.. .##### .####. .##.#. .##### .####. .###.. .####. .####. .###.. .####. .####.",
".####. ....#. ...##. ..###. .####. ..##.. ....#. .##... ...#.. .#.#.. ..##.. ....#. .###.. ..#.#. ..###.",
"#.##.. ..##.. .##... ..###. ..##.. .####. ..#... .####. ..##.. ..##.. ..###. ..#... ..###. ..###. .####.",
"....## ...#.. - .....# ...#.# - ....#. - - .....# - ...#.# .....# - .....#",
".##... ..#... ..#... ..###. ...#.. - - ..###. ..##.. .#.... - ..###. ..##.. .....# ..###.",
".###.. .####. .####. ..###. .####. .####. .####. .####. ..###. .####. ..###. .####. .####. ..###. .####.",
"- - - - - - - - - - - - - - -",
"- - - - - - - - - - - ..#... - - ..##..",
".##... ..#... .#.#.. - ..##.. ..##.. .##... .###.. ..#... ...#.. ..##.. ..#... ..##.. ...##. ..##..",
".####. .#.##. ..#... ...#.. ..##.. ..##.. ...#.. .###.. ...#.. ...#.. .#..#. .#.#.. ...#.. ..###. ..##..",
"- .#..#. ..##.. ..#.#. #.#..# ..##.. - .##### #.###. .####. .#..#. #...#. ###.#. ..#### .#####",
"...##. ...##. .####. ..#... ..###. ...##. - ..#### ...##. ..##.. ..#.#. - ..##.. ....#. -",
"- - .#.... - - - - - - - ..#... - - - -",
"..#... ...#.. ..#... - ..##.. ...#.. - ..#... - - ..#... ..#... ..#... ...##. ...#..",
".###.. .####. #####. #####. #####. .#.#.. ..###. #.###. .####. #.###. ####.. .##### #####. .##### .####."]
TEAL_EXTRA = {"Srinagar":[325,349,385,421,435,444,468,478,483]}
FIRST_MONSOON_MAY = 316

TEMP_SCALE = [[0,"#FAC962"],[0.27,"#F1A546"],[0.49,"#E98E3D"],[0.6,"#E27D33"],[0.71,"#DD702D"],[0.87,"#D35B25"],[1,"#BF3813"]]
PRECIP_SCALE = [[0,"#7BC1B3"],[0.16,"#6BA5A8"],[0.33,"#567D90"],[0.65,"#2E4568"],[1,"#19204A"]]
GREY_SCALE = [[0,"#808080"],[1,"#808080"]]

N_ST, N_MO = len(STATIONS), 492
XCENTERS = [1980 + (m + 0.5) / 12 for m in range(N_MO)]
YIDX = list(range(N_ST))
W, H = 2632, 3631
LEFT, RIGHT = 292, 2609
PANEL_PX = [(77, 828), (979, 1731), (1881, 2631), (2782, 3541)]
ROW = {s: i for i, s in enumerate(STATIONS)}


def from_profile(profile):
    return np.array([[p[m % 12] for m in range(N_MO)] for p in profile], dtype=float)


def temp_panel(profile, gaps):
    z, g = from_profile(profile), np.full((N_ST, N_MO), np.nan)
    for name, runs in gaps.items():
        for a, n in runs:
            g[ROW[name], a:a + n] = 1
            z[ROW[name], a:a + n] = np.nan
    for name, (a, n) in WHITE_RUNS.items():
        g[ROW[name], a:a + n] = np.nan
        z[ROW[name], a:a + n] = np.nan
    return z, g


def precip_panel():
    z = from_profile(PRECIP)
    for name, m, v in PRECIP_EVENTS:
        z[ROW[name], m] = v
    miss = np.zeros((N_ST, N_MO), dtype=bool)
    for i in range(N_ST):
        for a, n in PRECIP_GAPS[i]:
            miss[i, a:a + n] = True
        if STATIONS[i] not in PRECIP_COLUMN_EXCEPT:
            miss[i, PRECIP_COLUMN_MONTH] = True
        miss[i, GREY_BLOCK_1[0]:GREY_BLOCK_1[1]] = True
        for a, n in TEAL_BLOCK_1[i]:
            miss[i, a:a + n] = False
        miss[i, PRECIP_EDGE[i]:] = True
        for y, grp in enumerate(TEAL_YEARS[i].split()):
            if grp != "-":
                for k, ch in enumerate(grp):
                    if ch == "#":
                        miss[i, FIRST_MONSOON_MAY + 12 * y + k] = False
    for name, months in TEAL_EXTRA.items():
        for m in months:
            miss[ROW[name], m] = False
    g = np.where(miss, 1.0, np.nan)
    z[miss] = np.nan
    for name, (a, n) in PRECIP_WHITE_RUNS.items():
        g[ROW[name], a:a + n] = np.nan
        z[ROW[name], a:a + n] = np.nan
    return z, g


panels = [temp_panel(TMAX, TMAX_GAPS), temp_panel(TMEAN, TMEAN_GAPS), temp_panel(TMIN, TMIN_GAPS), precip_panel()]
fig = go.Figure()
BOLD = "Liberation Sans"
layout = {}
annots = []
for i, ((z, g), (top, bot)) in enumerate(zip(panels, PANEL_PX)):
    sx = "" if i == 0 else str(i + 1)
    is_p = i == 3
    cb_top = bot + (13 if is_p else 17)
    cb_h = 37 if not is_p else 34
    fig.add_trace(go.Heatmap(
        x=XCENTERS, y=YIDX, z=z.tolist(), xaxis="x" + sx, yaxis="y" + sx,
        colorscale=PRECIP_SCALE if is_p else TEMP_SCALE,
        zmin=0 if is_p else -2, zmax=3100 if is_p else 43, hoverongaps=False,
        colorbar=dict(orientation="h", xanchor="left", yanchor="top",
                      x=(534 if is_p else 525) / W, y=1 - cb_top / H,
                      lenmode="pixels", len=177 if is_p else 189,
                      thicknessmode="pixels", thickness=cb_h, xpad=0, ypad=0,
                      outlinewidth=0, ticks="", ticklabelposition="outside",
                      tickvals=[0, 1000, 2000, 3000] if is_p else [0, 10, 20, 30, 40],
                      tickfont=dict(family=BOLD, size=24 if not is_p else 23, color="#111111", weight="bold"))))
    fig.add_trace(go.Heatmap(
        x=XCENTERS, y=YIDX, z=g.tolist(), xaxis="x" + sx, yaxis="y" + sx,
        colorscale=GREY_SCALE, zmin=0, zmax=2, showscale=False, hoverongaps=False))
    layout["xaxis" + sx] = dict(domain=[LEFT / W, RIGHT / W], range=[1980, 2021], anchor="y" + sx,
                                tickvals=YEAR_TICKS, ticktext=YEAR_LABELS, ticks="", showgrid=False,
                                zeroline=False, showline=False, ticklabelstandoff=4 if is_p else 6,
                                tickfont=dict(family=BOLD, size=47, color="#000000", weight="bold"))
    layout["yaxis" + sx] = dict(domain=[1 - bot / H, 1 - top / H], range=[N_ST - 0.5, -0.5], anchor="x" + sx,
                                tickvals=YIDX, ticktext=STATIONS, ticks="", showgrid=False,
                                zeroline=False, showline=False, ticklabelstandoff=24,
                                tickfont=dict(family=BOLD, size=19, color="#7F7F7F"))
    title_y = [44, 945, 1845, 2741][i]
    annots.append(dict(text="<b>" + TITLES[i] + "</b>", x=1412 / W, y=1 - title_y / H, xref="paper", yref="paper",
                       xanchor="center", yanchor="middle", showarrow=False, font=dict(family=BOLD, size=49, color="#000000")))
    lab_y = [422, 1325, 2228, 3131][i]
    annots.append(dict(text="<b>Meteorological stations</b>", x=46 / W, y=1 - lab_y / H, xref="paper", yref="paper",
                       xanchor="center", yanchor="middle", textangle=-90, showarrow=False,
                       font=dict(family=BOLD, size=48, color="#000000")))
    yr_y = [870, 1771, 2671, 3579][i]
    annots.append(dict(text="<b>years</b>", x=2299 / W, y=1 - yr_y / H, xref="paper", yref="paper",
                       xanchor="center", yanchor="middle", showarrow=False, font=dict(family=BOLD, size=47, color="#000000")))
    unit_x, unit_y, unit = (494, bot + 42, "mm") if is_p else (489, bot + 45, "ºC")
    annots.append(dict(text="<b>" + unit + "</b>", x=unit_x / W, y=1 - unit_y / H, xref="paper", yref="paper",
                       xanchor="center", yanchor="middle", showarrow=False,
                       font=dict(family=BOLD, size=27 if is_p else 31, color="#000000")))

fig.update_layout(width=W, height=H, margin=dict(l=0, r=0, t=0, b=0, autoexpand=False), paper_bgcolor="white",
                  plot_bgcolor="white", showlegend=False, annotations=annots, **layout)
fig.write_html("out.html", post_script="document.body.style.margin='0';", config={"displayModeBar": False})
